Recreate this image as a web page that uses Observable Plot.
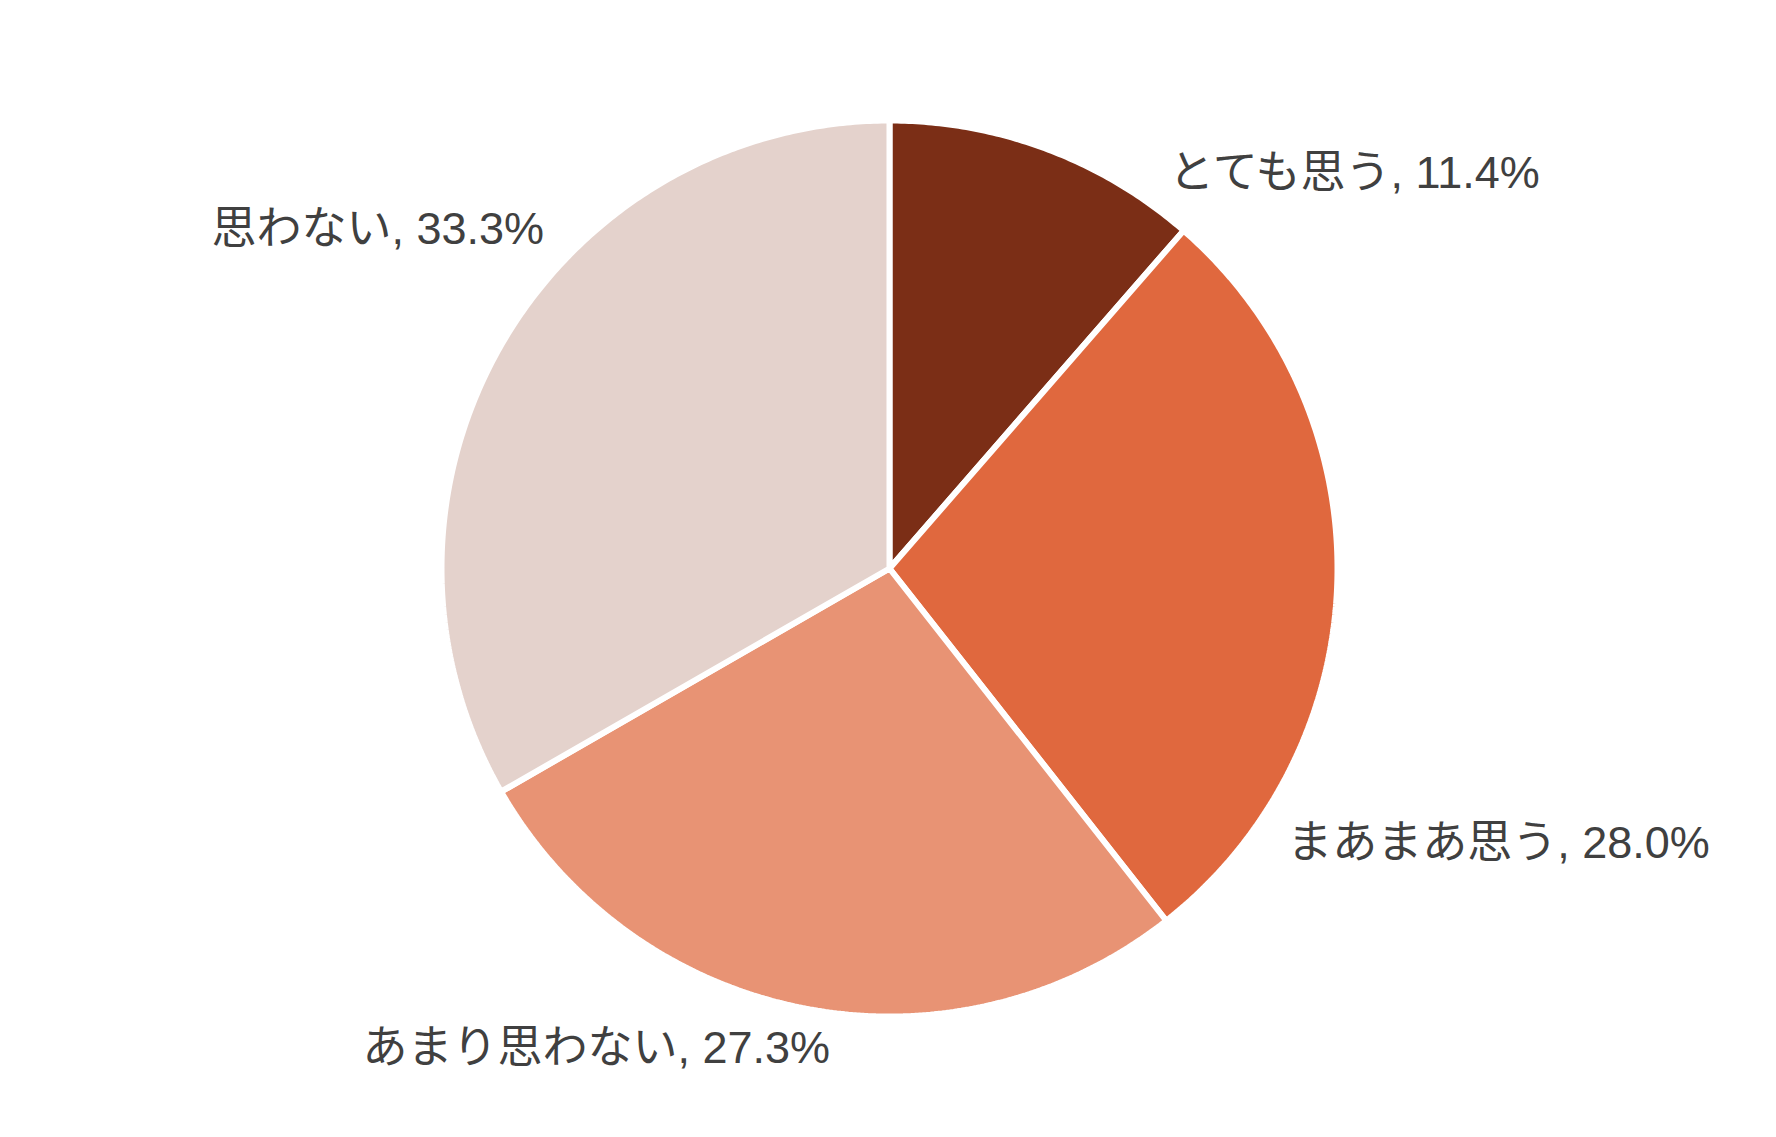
<!DOCTYPE html>
<html>
<head>
<meta charset="utf-8">
<script src="https://cdn.jsdelivr.net/npm/d3@7"></script>
<script src="https://cdn.jsdelivr.net/npm/@observablehq/plot@0.6"></script>
<style>
  html, body { margin: 0; padding: 0; background: #ffffff; }
  #chart svg { display: block; }
</style>
</head>
<body>
<div id="chart"></div>
<script>
// ---- data ----
const categories = ["とても思う", "まあまあ思う", "あまり思わない", "思わない"];
const values = [11.4, 28.0, 27.3, 33.3];
const colors = ["#7b2e16", "#e0683e", "#e89374", "#e4d2cc"];

// ---- layout settings (not data) ----
const W = 1776, H = 1137;
const cx = 889, cy = 568, R = 448;          // pie centre and radius in pixels
const labelRadius = 1.08;                    // label distance, in radii
const labelFrac = [0.86, 0.83, 0.46, 0.62];  // where along each slice's arc its label sits
const font = "'Liberation Sans', Arial, 'Noto Sans CJK JP', sans-serif";

const arcs = d3.pie().sort(null).value(d => d)(values);

// slice outlines in unit coordinates (angle 0 = 12 o'clock, clockwise)
const slicePts = [];
arcs.forEach((a, i) => {
  const cat = categories[i];
  slicePts.push({cat, x: 0, y: 0});
  const steps = Math.max(2, Math.ceil((a.endAngle - a.startAngle) / (Math.PI / 360)));
  for (let k = 0; k <= steps; k++) {
    const t = a.startAngle + (a.endAngle - a.startAngle) * k / steps;
    slicePts.push({cat, x: Math.sin(t), y: Math.cos(t)});
  }
  slicePts.push({cat, x: 0, y: 0});
});

const labels = arcs.map((a, i) => {
  const t = a.startAngle + (a.endAngle - a.startAngle) * labelFrac[i];
  return {
    text: `${categories[i]}, ${values[i].toFixed(1)}%`,
    x: labelRadius * Math.sin(t),
    y: labelRadius * Math.cos(t),
    anchor: Math.sin(t) >= 0 ? "start" : "end"
  };
});

const chart = Plot.plot({
  width: W,
  height: H,
  margin: 0,
  x: {domain: [-cx / R, (W - cx) / R], range: [0, W], axis: null},
  y: {domain: [-(H - cy) / R, cy / R], range: [H, 0], axis: null},
  color: {domain: categories, range: colors},
  style: {fontFamily: font, background: "#ffffff"},
  marks: [
    Plot.line(slicePts, {x: "x", y: "y", z: "cat", fill: "cat", stroke: "white", strokeWidth: 6, strokeLinejoin: "miter", curve: "linear"}),
    Plot.text(labels.filter(d => d.anchor === "start"), {x: "x", y: "y", text: "text", textAnchor: "start", lineAnchor: "middle", fill: "#404040", fontSize: 45, fontFamily: font}),
    Plot.text(labels.filter(d => d.anchor === "end"), {x: "x", y: "y", text: "text", textAnchor: "end", lineAnchor: "middle", fill: "#404040", fontSize: 45, fontFamily: font})
  ]
});
document.getElementById("chart").appendChild(chart);
</script>
</body>
</html>
